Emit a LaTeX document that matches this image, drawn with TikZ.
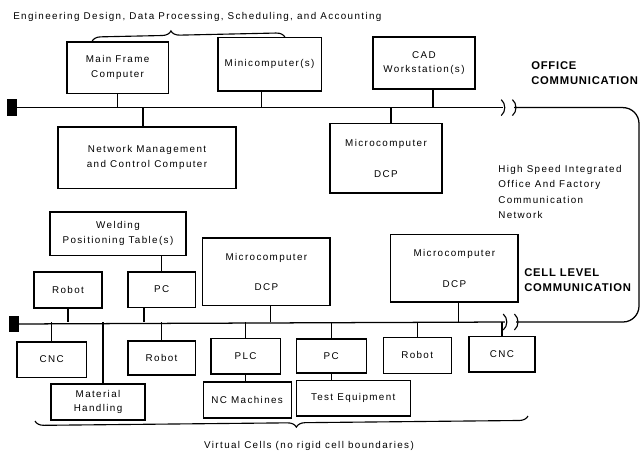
\documentclass[tikz,border=0pt]{standalone}
\usepackage{fontspec}
\newfontfamily\diagfont[LetterSpace=14]{Liberation Sans}
\newfontfamily\capsfont[LetterSpace=7]{Liberation Sans}
\usetikzlibrary{calc,decorations.pathreplacing}
\newcommand{\boxtext}{\diagfont\fontsize{7}{10.5}\selectfont}
\newcommand{\captext}{\capsfont\bfseries\fontsize{8}{10.7}\selectfont}
\tikzset{
  unitbox/.style={draw, line width=0.8pt, align=center, inner sep=1pt, font=\boxtext},
  busline/.style={line width=0.9pt},
  drop/.style={line width=0.8pt},
  busend/.style={fill=black, inner sep=0pt, minimum width=0.25cm, minimum height=0.42cm},
  gapmark/.style={line width=0.8pt},
  netlabel/.style={anchor=west, align=left, inner sep=0pt},
  cellbrace/.style={line width=0.8pt, decorate, decoration={brace, amplitude=0.22cm}}}

\begin{document}
\begin{tikzpicture}
    \useasboundingbox (0,0) rectangle (16,-11.4);
    % office level
    \node[netlabel, font=\boxtext] (apps) at (0.325,-0.425)
      {Engineering Design, Data Processing, Scheduling, and Accounting};
    \node[unitbox, minimum width=2.53cm, minimum height=1.28cm] (mainframe) at (2.94,-1.69)
      {Main Frame\\Computer};
    \node[unitbox, minimum width=2.58cm, minimum height=1.33cm] (mini) at (6.74,-1.61)
      {Minicomputer(s)};
    \node[unitbox, minimum width=2.55cm, minimum height=1.3cm] (cad) at (10.6,-1.575)
      {CAD\\Workstation(s)};
    \node[netlabel, font=\captext] (officelbl) at (13.275,-1.84) {OFFICE\\COMMUNICATION};
    \node[unitbox, minimum width=4.45cm, minimum height=1.53cm] (netmgmt) at (3.675,-3.94)
      {Network Management\\and Control Computer};
    \node[unitbox, minimum width=2.8cm, minimum height=1.73cm] (officedcp) at (9.65,-3.96)
      {Microcomputer\\[11pt]DCP};
    \draw[cellbrace, decoration={aspect=0.41}]
      ($(mainframe.north)+(-0.64,0)$) -- ($(mini.north)+(0.385,0)$);
    % office bus
    \coordinate (obus) at (0,-2.69);
    \coordinate (obrkl) at (12.57,-2.69);
    \coordinate (obrkr) at (12.85,-2.69);
    \node[busend] (oend) at (0.3,-2.69) {};
    \draw[busline] (oend.center) -- (obrkl);
    \draw[gapmark] ($(obrkl)+(-0.04,0.2)$) to[bend left=50] ($(obrkl)+(-0.04,-0.2)$);
    \draw[gapmark] ($(obrkr)+(-0.04,0.2)$) to[bend left=50] ($(obrkr)+(-0.04,-0.2)$);
    \draw[drop] (mainframe.south) -- (mainframe.south |- obus);
    \draw[drop] ($(mini.south)+(-0.21,0)$) -- ($(mini.south |- obus)+(-0.21,0)$);
    \draw[drop] ($(cad.south)+(0.225,0)$) -- ($(cad.south |- obus)+(0.225,0)$);
    \draw[drop] ($(netmgmt.north)+(-0.1,0)$) -- ($(netmgmt.north |- obus)+(-0.1,0)$);
    \draw[drop] ($(officedcp.north)+(0.125,0)$) -- ($(officedcp.north |- obus)+(0.125,0)$);
    \node[netlabel, font=\diagfont\fontsize{7}{10.9}\selectfont] (hsnet) at (12.45,-4.8)
      {High Speed Integrated\\Office And Factory\\Communication\\Network};
    % cell level
    \node[unitbox, minimum width=3.4cm, minimum height=1.08cm] (welding) at (2.95,-5.84)
      {Welding\\Positioning Table(s)};
    \node[unitbox, minimum width=1.7cm, minimum height=0.9cm] (robota) at (1.7,-7.25) {Robot};
    \node[unitbox, minimum width=1.68cm, minimum height=0.88cm] (pca) at (4.04,-7.24) {PC};
    \node[unitbox, minimum width=3.18cm, minimum height=1.68cm] (dcpa) at (6.66,-6.79)
      {Microcomputer\\[11pt]DCP};
    \node[unitbox, minimum width=3.18cm, minimum height=1.68cm] (dcpb) at (11.36,-6.71)
      {Microcomputer\\[11pt]DCP};
    \node[netlabel, font=\captext] (celllbl) at (13.1,-7.0) {CELL LEVEL\\COMMUNICATION};
    \node[unitbox, minimum width=1.73cm, minimum height=0.88cm] (cnca) at (1.29,-8.99) {CNC};
    \node[unitbox, minimum width=2.35cm, minimum height=0.9cm] (mh) at (2.45,-10.05)
      {Material\\Handling};
    \node[unitbox, minimum width=1.68cm, minimum height=0.85cm] (robotb) at (4.04,-8.95) {Robot};
    \node[unitbox, minimum width=1.73cm, minimum height=0.88cm] (plc) at (6.14,-8.91) {PLC};
    \node[unitbox, minimum width=2.2cm, minimum height=0.9cm] (ncm) at (6.18,-10.0) {NC Machines};
    \node[unitbox, minimum width=1.75cm, minimum height=0.85cm] (pcb) at (8.28,-8.9) {PC};
    \node[unitbox, minimum width=2.85cm, minimum height=0.88cm] (testeq) at (8.83,-9.96)
      {Test Equipment};
    \node[unitbox, minimum width=1.7cm, minimum height=0.9cm] (robotc) at (10.43,-8.88) {Robot};
    \node[unitbox, minimum width=1.65cm, minimum height=0.88cm] (cncb) at (12.55,-8.86) {CNC};
    % cell bus
    \coordinate (cbus) at (0,-8.05);
    \coordinate (cbrkl) at (12.62,-8.05);
    \coordinate (cbrkr) at (12.9,-8.05);
    \node[busend] (cend) at (0.34,-8.1) {};
    \draw[busline] (cend.center) -- (cbrkl);
    \draw[gapmark] ($(cbrkl)+(-0.04,0.2)$) to[bend left=50] ($(cbrkl)+(-0.04,-0.2)$);
    \draw[gapmark] ($(cbrkr)+(-0.04,0.2)$) to[bend left=50] ($(cbrkr)+(-0.04,-0.2)$);
    % the network joining both buses
    \draw[busline, rounded corners=0.4cm] (obrkr) -- (15.975,-2.69) -- (15.975,-8.05) -- (cbrkr);
    \draw[drop] (pca.north) -- (pca.north |- welding.south);
    \draw[drop] (robota.south) -- (robota.south |- cbus);
    \draw[drop] ($(pca.south)+(-0.44,0)$) -- ($(pca.south |- cbus)+(-0.44,0)$);
    \draw[drop] ($(dcpa.south)+(0.11,0)$) -- ($(dcpa.south |- cbus)+(0.11,0)$);
    \draw[drop] ($(dcpb.south)+(0.11,0)$) -- ($(dcpb.south |- cbus)+(0.11,0)$);
    \foreach \unit in {cnca,robotb,plc,pcb,robotc,cncb}
      \draw[drop] (\unit.north) -- (\unit.north |- cbus);
    \draw[drop] ($(mh.north)+(0.125,0)$) -- ($(mh.north |- cbus)+(0.125,0)$);
    \draw[drop] (plc.south) -- (plc.south |- ncm.north);
    \draw[drop] (pcb.south) -- (pcb.south |- testeq.north);
    % virtual cells
    \draw[cellbrace, decoration={mirror, aspect=0.53}] (0.875,-10.525) -- (13.2,-10.4);
    \node[font=\boxtext] (virtual) at (7.725,-11.15) {Virtual Cells (no rigid cell boundaries)};
\end{tikzpicture}
\end{document}
